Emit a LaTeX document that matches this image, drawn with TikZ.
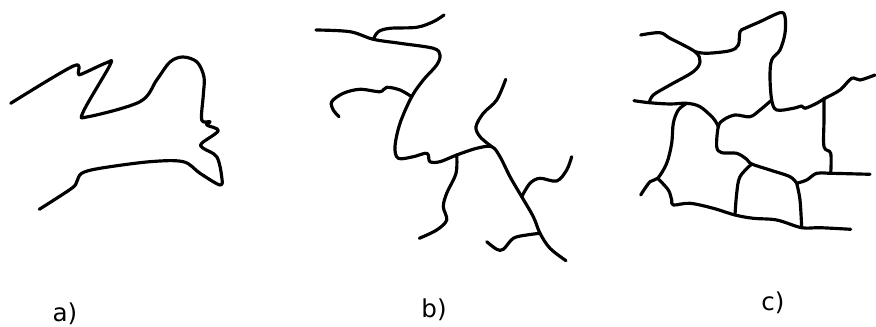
\documentclass[tikz,border=0pt]{standalone}
\usepackage{fontspec}
\setmainfont{DejaVu Sans}
\usetikzlibrary{positioning}

\begin{document}
\begin{tikzpicture}[
    x=0.02cm, y=-0.02cm,
    crack/.style={line width=1.8pt, line cap=round, line join=round},
    caption/.style={font=\fontsize{14}{16}\selectfont, inner sep=0pt}
]
\useasboundingbox (0,0) rectangle (876,327);

% a) single boundary
\draw[crack] plot[smooth, tension=0.55] coordinates {(10.7,103.3) (73.3,66) (78.3,73.3) (81.7,74) (106.7,62.7) (110,65) (83.3,111.7) (88.3,116.7) (140,101.7) (156.7,80) (170,62) (183,57) (197,62) (204,77) (203.3,95) (201.7,120) (210,121.7) (206.7,125) (218.3,130.7) (201.7,143.3) (203.3,148.3) (216.7,156.7) (221.7,176.7) (220,185) (200,173.3) (183.3,161.7) (150,161.7) (100,168.3) (81.7,173.3) (76.7,181.7) (71.7,188.3) (39.3,209.3)};

% b) main crack with branches
\draw[crack] plot[smooth, tension=0.55] coordinates {(316,30) (350,31.7) (373.3,39.3) (400,43.3) (433.3,48.3) (440,55) (436.7,65) (423.3,80) (411.7,96.7) (400,123.3) (395,146.7) (398.3,158.3) (413.3,156.7) (425,153.3) (428.3,155) (430,161.7) (440,161.7) (456.7,155) (476.7,148.3) (491.7,146.7) (500,156.7) (510,176.7) (521.7,196.7) (533.3,216.7) (540,233.3) (550,248.3) (566,260.7)};
\draw[crack] plot[smooth, tension=0.55] coordinates {(373.3,39.3) (378.3,31.7) (390,28.3) (416.7,27.3) (433.3,21.7) (444,15)};
\draw[crack] plot[smooth, tension=0.55] coordinates {(411.7,96.7) (400,90) (386.7,87.3) (380,91.7) (360,89.3) (343.3,93.3) (331.7,101.7) (333.3,110) (339,116.7)};
\draw[crack] plot[smooth, tension=0.55] coordinates {(491.7,146.7) (480,136.7) (476,126.7) (483.3,113.3) (496.7,100) (505.7,79.3)};
\draw[crack] plot[smooth, tension=0.55] coordinates {(456.7,155) (456,173.3) (446.7,193.3) (443.3,206.7) (446.7,220) (436.7,230) (419.3,238.3)};
\draw[crack] plot[smooth, tension=0.55] coordinates {(521.7,196.7) (530,183.3) (540,178.3) (556.7,181) (566.7,170) (571.7,156.7)};
\draw[crack] plot[smooth, tension=0.55] coordinates {(540,233.3) (526.7,235) (513.3,238.3) (503.3,249.3) (496.7,249.3) (486.7,241.7)};

% c) network of cells
\draw[crack] plot[smooth, tension=0.55] coordinates {(640.7,35) (660,32.7) (670,38.3) (695,51.7) (700,61.7) (693.3,71.7) (670,85) (653.3,95) (649.3,102.7)};
\draw[crack] plot[smooth, tension=0.55] coordinates {(695,51.7) (706.7,53.3) (730,50.7) (738.3,45) (740,31.7) (745,28.3) (760,21.7) (780,12.7) (785,16.7) (785,33.3) (780,50) (771.7,60) (770,76.7) (771.7,100) (776.7,110) (793.3,108.3) (801.7,106) (805,108.3) (816.7,103.3) (825,98.3) (840,90) (851.7,78.3) (860,80) (875,75)};
\draw[crack] plot[smooth, tension=0.55] coordinates {(634,100.7) (649.3,102.7) (670,104) (686.7,103.3) (700,106.7) (713.3,118.3) (718.3,126.7)};
\draw[crack] plot[smooth, tension=0.55] coordinates {(771.7,100) (760,110) (750,116.7) (735,115) (723.3,120) (718.3,126.7) (716.7,146.7) (721.7,152.7) (736.7,153.3) (746.7,159.3) (751.7,164) (770,170) (790,176.7) (796.7,183.3)};
\draw[crack] plot[smooth, tension=0.55] coordinates {(824,98.3) (824,120) (824,146.7) (830.7,153.3) (830.7,173.3)};
\draw[crack] plot[smooth, tension=0.55] coordinates {(796.7,183.3) (806.7,180) (816.7,173.3) (830.7,173.3) (870,174.3)};
\draw[crack] plot[smooth, tension=0.55] coordinates {(686.7,103.3) (678.3,110) (673.3,123.3) (671.7,143.3) (666.7,163.3) (657.7,178.3) (650,181.7) (640.7,195)};
\draw[crack] plot[smooth, tension=0.55] coordinates {(657.7,178.3) (668.3,190) (671.7,200) (673.3,205) (690,203.3) (713.3,208.3) (735,215) (753.3,218.3) (776.7,220) (801.7,227.7) (820,227.7) (850.7,229.3)};
\draw[crack] plot[smooth, tension=0.55] coordinates {(751.7,164) (740,176.7) (736.7,193.3) (735,215)};
\draw[crack] plot[smooth, tension=0.55] coordinates {(796.7,183.3) (800,200) (801.7,227.7)};

% captions
\node[caption] (capA) at (65,314) {a)};
\node[caption] (capB) at (434,310) {b)};
\node[caption] (capC) at (773,303) {c)};

\end{tikzpicture}
\end{document}
